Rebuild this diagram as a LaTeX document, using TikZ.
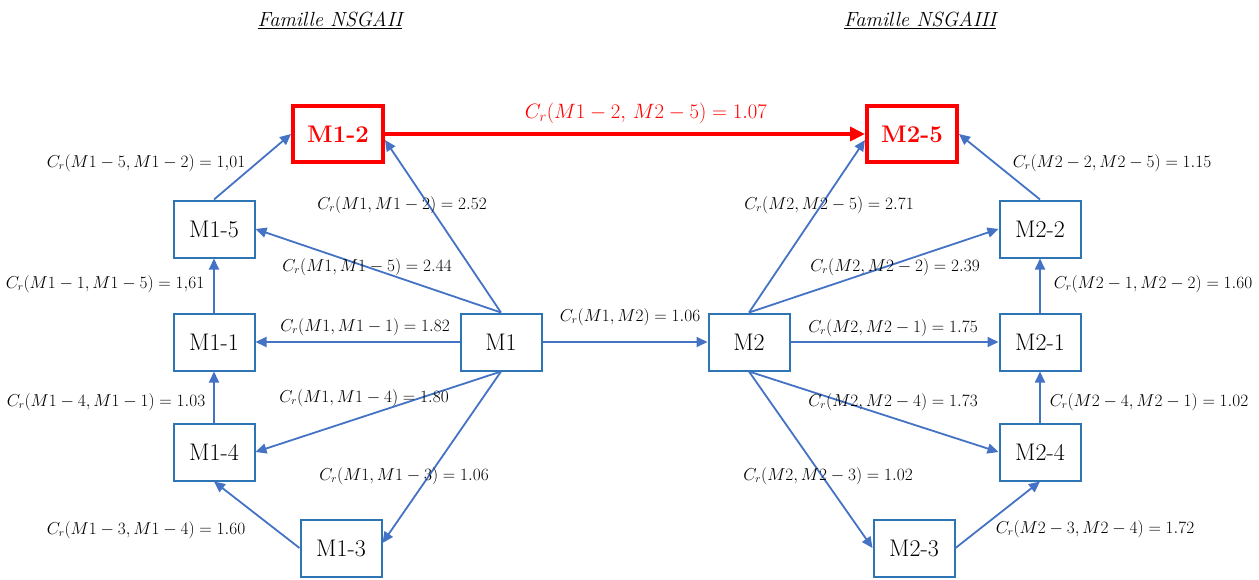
\documentclass[tikz,border=0pt]{standalone}
\usetikzlibrary{arrows.meta}
\definecolor{boxblue}{HTML}{2E75B6}
\definecolor{arrblue}{HTML}{4472C4}
\definecolor{redc}{HTML}{FF0000}
\begin{document}
\begin{tikzpicture}[x=1pt,y=-1pt,
  box/.style={draw=boxblue,line width=2pt,minimum width=81pt,minimum height=57pt,inner sep=0pt,font=\fontsize{24}{26}\selectfont},
  redbox/.style={draw=redc,line width=4pt,minimum width=90pt,minimum height=56pt,inner sep=0pt,font=\fontsize{24}{26}\selectfont\bfseries,text=redc},
  arr/.style={draw=arrblue,line width=1.8pt,-{Triangle[length=11pt,width=10pt]}},
  redarr/.style={draw=redc,line width=4pt,-{Triangle[length=15pt,width=14pt]}},
  lab/.style={font=\fontsize{16}{18}\selectfont,inner sep=1pt},
  redlab/.style={font=\fontsize{20}{22}\selectfont,inner sep=1pt,text=redc},
  ttl/.style={font=\fontsize{20.5}{22}\selectfont\itshape,inner sep=1pt}]
\useasboundingbox (0,0) rectangle (1259,579);
% titles
\node[ttl] (t1) at (330,20) {\underline{Famille NSGAII}};
\node[ttl] (t2) at (920,20) {\underline{Famille NSGAIII}};
% left family
\node[redbox] (M12) at (338,134) {M1-2};
\node[box] (M15) at (214,229) {M1-5};
\node[box] (M11) at (214,342) {M1-1};
\node[box] (M1) at (501,342) {M1};
\node[box] (M14) at (214,452) {M1-4};
\node[box] (M13) at (341,548) {M1-3};
% right family
\node[redbox] (M25) at (912,134) {M2-5};
\node[box] (M22) at (1040,229) {M2-2};
\node[box] (M2) at (749,342) {M2};
\node[box] (M21) at (1040,342) {M2-1};
\node[box] (M24) at (1040,452) {M2-4};
\node[box] (M23) at (914,548) {M2-3};
% edges left
\draw[arr] (M1.north) -- ([yshift=-6pt]M12.east);
\draw[arr] (M1.north) -- (M15.east);
\draw[arr] (M1.west) -- (M11.east);
\draw[arr] (M1.south) -- (M14.east);
\draw[arr] (M1.south) -- ([yshift=5pt]M13.east);
\draw[arr] (M13.west) -- (M14.south);
\draw[arr] (M14.north) -- (M11.south);
\draw[arr] (M11.north) -- (M15.south);
\draw[arr] (M15.north) -- (M12.west);
% middle
\draw[redarr] (M12.east) -- (M25.west);
\draw[arr] (M1.east) -- (M2.west);
% edges right
\draw[arr] (M2.north) -- ([yshift=-6pt]M25.west);
\draw[arr] (M2.north) -- (M22.west);
\draw[arr] (M2.east) -- (M21.west);
\draw[arr] (M2.south) -- (M24.west);
\draw[arr] (M2.south) -- (M23.west);
\draw[arr] (M23.east) -- (M24.south);
\draw[arr] (M24.north) -- (M21.south);
\draw[arr] (M21.north) -- (M22.south);
\draw[arr] (M22.north) -- (M25.east);
% labels left
\node[lab] (l1) at (146,163) {$C_r(M1-5,M1-2)=1{,}01$};
\node[lab] (l2) at (402,205) {$C_r(M1,M1-2)=2.52$};
\node[lab] (l3) at (367,267) {$C_r(M1,M1-5)=2.44$};
\node[lab] (l4) at (105,284) {$C_r(M1-1,M1-5)=1{,}61$};
\node[lab] (l5) at (365,327) {$C_r(M1,M1-1)=1.82$};
\node[lab] (l6) at (106,402) {$C_r(M1-4,M1-1)=1.03$};
\node[lab] (l7) at (364,398) {$C_r(M1,M1-4)=1.80$};
\node[lab] (l8) at (404,476) {$C_r(M1,M1-3)=1.06$};
\node[lab] (l9) at (146,530) {$C_r(M1-3,M1-4)=1.60$};
\node[lab] (l10) at (630,317) {$C_r(M1,M2)=1.06$};
\node[redlab] (lr) at (646,113) {$C_r(M1-2,\,M2-5)=1.07$};
% labels right
\node[lab] (r1) at (1112,163) {$C_r(M2-2,M2-5)=1.15$};
\node[lab] (r2) at (829,205) {$C_r(M2,M2-5)=2.71$};
\node[lab] (r3) at (895,267) {$C_r(M2,M2-2)=2.39$};
\node[lab] (r4) at (1153,284) {$C_r(M2-1,M2-2)=1.60$};
\node[lab] (r5) at (893,328) {$C_r(M2,M2-1)=1.75$};
\node[lab] (r6) at (893,402) {$C_r(M2,M2-4)=1.73$};
\node[lab] (r7) at (1149,402) {$C_r(M2-4,M2-1)=1.02$};
\node[lab] (r8) at (828,476) {$C_r(M2,M2-3)=1.02$};
\node[lab] (r9) at (1095,529) {$C_r(M2-3,M2-4)=1.72$};
\end{tikzpicture}
\end{document}
